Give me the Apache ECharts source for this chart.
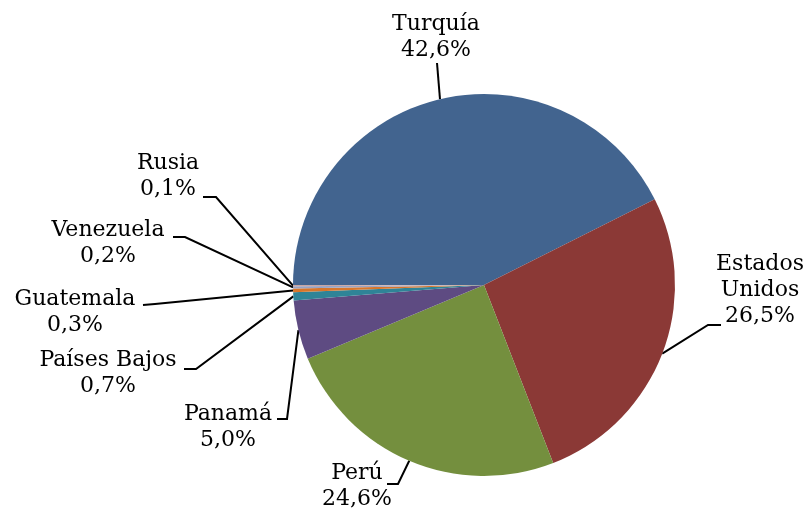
<!DOCTYPE html>
<html>
<head>
<meta charset="utf-8">
<script src="https://cdn.jsdelivr.net/npm/echarts@6/dist/echarts.min.js"></script>
<style>
  html, body { margin: 0; padding: 0; background: #fff; }
  #main { width: 809px; height: 510px; }
</style>
</head>
<body>
<div id="main"></div>
<script>
// paises y participacion (%)
const paises = ['Turquía', 'Estados Unidos', 'Perú', 'Panamá', 'Países Bajos', 'Guatemala', 'Venezuela', 'Rusia']
const valores = [42.6, 26.5, 24.6, 5.0, 0.7, 0.3, 0.2, 0.1]
const colores = ['#42648f', '#8b3936', '#748f3e', '#5e4b82', '#2f8497', '#d8762b', '#9aa3c2', '#c8a6a4']

// posicion de cada etiqueta (centro del texto) y codo de la linea guia
const etiquetas = [
  { x: 436, y: 37, codo: null, fin: [437, 63] },
  { x: 760, y: 290, codo: [708, 325], fin: [721, 325] },
  { x: 357, y: 486, codo: [398, 484], fin: [387, 484] },
  { x: 228, y: 427, codo: [287, 419], fin: [277, 419] },
  { x: 108, y: 373, codo: [196, 369], fin: [184, 369] },
  { x: 75, y: 312, codo: [155, 304], fin: [143, 305] },
  { x: 108, y: 243, codo: [185, 237], fin: [173, 237] },
  { x: 168, y: 176, codo: [216, 197], fin: [203, 197] },
]

let chart = echarts.init(document.getElementById('main'))
let option = {
  animation: false,
  series: [
    {
      type: 'pie',
      center: [484, 285],
      radius: 191,
      startAngle: 180,
      clockwise: true,
      avoidLabelOverlap: false,
      itemStyle: { borderWidth: 0 },
      label: {
        show: true,
        fontFamily: 'DejaVu Serif',
        fontSize: 22,
        lineHeight: 26,
        color: '#000',
        align: 'center',
        formatter: (p) => {
          let nombre = p.name === 'Estados Unidos' ? 'Estados\nUnidos' : p.name
          return nombre + '\n' + p.value.toFixed(1).replace('.', ',') + '%'
        },
      },
      labelLine: {
        show: true,
        lineStyle: { color: '#000', width: 2 },
      },
      labelLayout: (params) => {
        let e = etiquetas[params.dataIndex]
        let inicio = params.labelLinePoints ? params.labelLinePoints[0] : e.fin
        let puntos = e.codo ? [inicio, e.codo, e.fin] : [inicio, e.fin]
        return {
          x: e.x,
          y: e.y,
          align: 'center',
          verticalAlign: 'middle',
          labelLinePoints: puntos,
        }
      },
      data: paises.map((n, i) => ({ name: n, value: valores[i], itemStyle: { color: colores[i] } })),
    },
  ],
}
chart.setOption(option)
</script>
</body>
</html>
